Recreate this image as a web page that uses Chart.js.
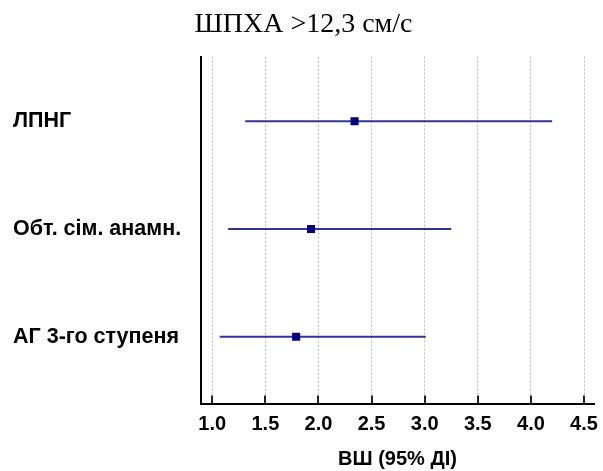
<!DOCTYPE html>
<html>
<head>
<meta charset="utf-8">
<script src="https://cdn.jsdelivr.net/npm/chart.js@4/dist/chart.umd.min.js"></script>
<style>
html,body{margin:0;padding:0;background:#fff;}
#wrap{width:603px;height:471px;position:relative;}
</style>
</head>
<body>
<div id="wrap"><canvas id="c" width="603" height="471"></canvas></div>
<script>
const categories = ["ЛПНГ", "Обт. сім. анамн.", "АГ 3-го ступеня"];
const oddsRatios = [2.34, 1.93, 1.79];
const lowerCI = [1.31, 1.15, 1.07];
const upperCI = [4.20, 3.25, 3.01];
const xTickValues = [1.0, 1.5, 2.0, 2.5, 3.0, 3.5, 4.0, 4.5];

const barColor = 'rgba(0,0,128,0.8)';
const datasets = categories.map((c, i) => ({
  type: 'line',
  label: c,
  data: [{x: lowerCI[i], y: i + 1}, {x: upperCI[i], y: i + 1}],
  borderColor: barColor,
  borderWidth: 2,
  pointRadius: 0,
  showLine: true,
  fill: false,
  order: 2
}));
datasets.push({
  type: 'scatter',
  label: 'ВШ',
  data: categories.map((c, i) => ({x: oddsRatios[i], y: i + 1})),
  pointStyle: 'rect',
  pointRadius: 5.7,
  backgroundColor: '#000080',
  borderColor: '#000080',
  borderWidth: 0,
  order: 1
});

const innerTicks = {
  id: 'innerTicks',
  afterDraw(chart) {
    const xs = chart.scales.x;
    const ctx = chart.ctx;
    const bottom = chart.chartArea.bottom;
    ctx.save();
    ctx.strokeStyle = '#222';
    ctx.lineWidth = 2;
    xs.ticks.forEach(t => {
      const px = Math.round(xs.getPixelForValue(t.value));
      ctx.beginPath();
      ctx.moveTo(px, bottom);
      ctx.lineTo(px, bottom - 8);
      ctx.stroke();
    });
    ctx.restore();
  }
};

new Chart(document.getElementById('c'), {
  data: { datasets },
  plugins: [innerTicks],
  options: {
    responsive: false,
    animation: false,
    layout: { padding: { left: 13, right: 9, top: 0, bottom: 0 } },
    plugins: {
      legend: { display: false },
      tooltip: { enabled: false },
      title: {
        display: true,
        text: 'ШПХА >12,3 см/с',
        color: '#000',
        font: { family: "'Liberation Serif', 'Times New Roman', serif", size: 28, weight: 'normal' },
        padding: { top: 8, bottom: 15 }
      }
    },
    scales: {
      x: {
        type: 'linear',
        min: 0.894,
        max: 4.594,
        afterBuildTicks: s => { s.ticks = xTickValues.map(v => ({ value: v })); },
        afterFit: s => { s.paddingRight = 0; s.paddingLeft = 0; },
        grid: { display: true, color: '#bbbbbb', lineWidth: 1, drawTicks: false },
        border: { display: true, color: '#000', width: 2, dash: [2, 2] },
        ticks: {
          padding: 8.5,
          color: '#000',
          font: { family: "'Liberation Sans', Arial, sans-serif", size: 20, weight: 'bold' },
          callback: v => Number(v).toFixed(1),
          maxRotation: 0
        },
        title: {
          display: true,
          text: 'ВШ (95% ДІ)',
          color: '#000',
          font: { family: "'Liberation Sans', Arial, sans-serif", size: 20, weight: 'bold' },
          padding: { top: 2.5, bottom: 0 }
        }
      },
      y: {
        type: 'linear',
        reverse: true,
        min: 0.4,
        max: 3.62,
        afterBuildTicks: s => { s.ticks = categories.map((c, i) => ({ value: i + 1 })); },
        afterFit: s => { s.width = 188; },
        grid: { display: false, drawTicks: false },
        border: { display: true, color: '#000', width: 2 },
        ticks: {
          padding: 0,
          crossAlign: 'far',
          color: '#000',
          font: { family: "'Liberation Sans', Arial, sans-serif", size: 21.5, weight: 'bold' },
          callback: v => categories[Math.round(v) - 1] || ''
        }
      }
    }
  }
});
</script>
</body>
</html>
